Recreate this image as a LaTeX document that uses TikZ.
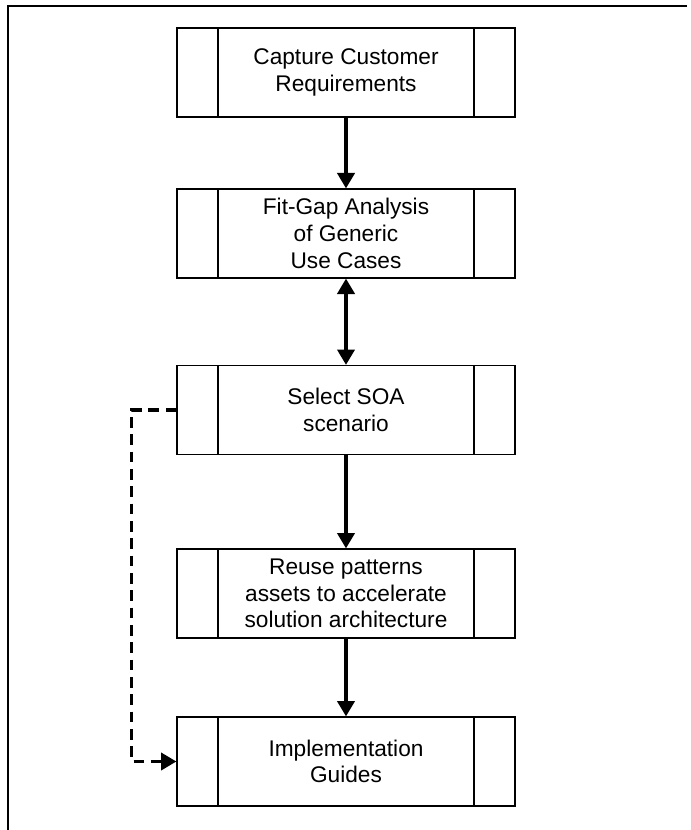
\documentclass[tikz,border=0pt]{standalone}
\usepackage{fontspec}
\setmainfont{Liberation Sans}
\usetikzlibrary{arrows.meta}

\tikzset{
  procbox/.style={draw, line width=1pt, minimum width=253.5pt, minimum height=66.75pt,
    align=center, inner sep=0pt, font=\fontsize{17}{20}\selectfont,
    path picture={
      \draw[line width=1pt] ([xshift=30.75pt]path picture bounding box.north west) -- ([xshift=30.75pt]path picture bounding box.south west);
      \draw[line width=1pt] ([xshift=-30.75pt]path picture bounding box.north east) -- ([xshift=-30.75pt]path picture bounding box.south east);
    }},
  flow/.style={line width=2.3pt, -{Triangle[length=11.5pt,width=13pt]}},
  backflow/.style={dashed, dash pattern=on 8pt off 5pt}
}

\begin{document}
\begin{tikzpicture}[x=0.75pt,y=-0.75pt]
\useasboundingbox (0,0) rectangle (691,830);
\draw[line width=1.1pt] (687,6) -- (8,6) -- (8,830);

\node[procbox] (capture) at (346,72.5) {Capture Customer\\Requirements};
\node[procbox] (fitgap) at (346,233.5) {Fit-Gap Analysis\\of Generic\\Use Cases};
\node[procbox] (select) at (346,410) {Select SOA\\scenario};
\node[procbox] (reuse) at (346,593.5) {Reuse patterns\\assets to accelerate\\solution architecture};
\node[procbox] (impl) at (346,761.5) {Implementation\\Guides};

\draw[flow] (capture) -- (fitgap);
\draw[flow, {Triangle[length=11.5pt,width=13pt]}-{Triangle[length=11.5pt,width=13pt]}] (fitgap) -- (select);
\draw[flow] (select) -- (reuse);
\draw[flow] (reuse) -- (impl);
\draw[flow, backflow] (select.west) -- ++(-45,0) |- (impl.west);
\end{tikzpicture}
\end{document}
